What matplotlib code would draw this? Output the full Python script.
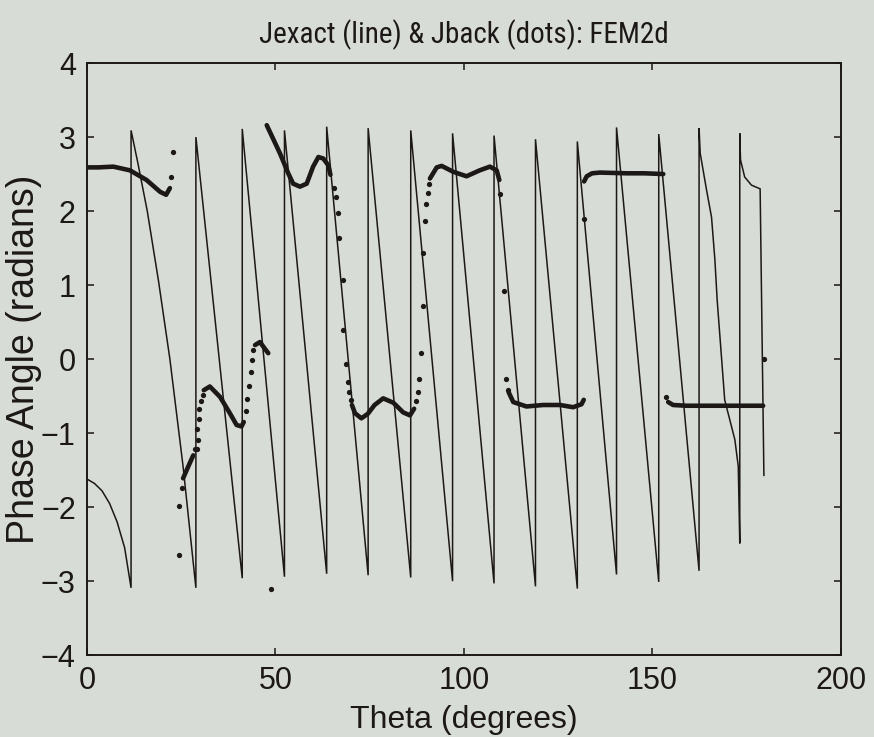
import numpy as np
import matplotlib
matplotlib.use("Agg")
import matplotlib.pyplot as plt
from matplotlib import font_manager

# --- Jexact: wrapped phase of the exact current (line vertices) ---
jexact_theta = [0.0, 2.0, 4.0, 6.0, 8.0, 10.0, 11.7,
                11.7, 13.5, 16.0, 19.0, 22.0, 25.5, 28.9,
                28.9, 41.2,
                41.2, 52.4,
                52.4, 63.6,
                63.6, 74.6,
                74.6, 85.9,
                85.9, 97.0,
                97.0, 108.0,
                108.0, 119.0,
                119.0, 130.1,
                130.1, 140.5,
                140.5, 151.7,
                151.7, 162.4,
                162.4, 162.7, 164.4, 165.7, 166.6, 167.2, 169.2, 171.9, 172.8, 173.2,
                173.2, 173.4, 174.5, 176.3, 178.6, 179.6]
jexact_phase = [-1.62, -1.68, -1.78, -1.95, -2.20, -2.55, -3.09,
                3.09, 2.65, 2.00, 1.05, 0.00, -1.45, -3.09,
                3.00, -2.96,
                3.11, -2.94,
                3.09, -2.90,
                3.14, -2.92,
                3.12, -2.95,
                3.09, -3.00,
                3.05, -3.03,
                3.02, -3.07,
                2.97, -3.10,
                2.94, -2.91,
                3.13, -3.01,
                3.04, -2.86,
                3.12, 2.78, 2.28, 1.92, 1.34, 0.80, -0.55, -1.09, -1.45, -2.49,
                3.05, 2.69, 2.46, 2.35, 2.30, -1.57]

# --- Jback: back-propagated phase, densely sampled stretches (NaN = gap) ---
jback_theta = [0.0, 3.0, 7.0, 11.4, 15.8, 19.4, 21.0, 22.0, np.nan,
               25.5, 26.8, 28.2, np.nan,
               31.0, 32.6, 35.3, 37.9, 39.7, 41.0, 41.6, np.nan,
               44.6, 45.9, 47.2, 48.1, np.nan,
               47.7, 51.2, 53.4, 54.7, 56.5, 58.3, 60.0, 61.4, 62.7, 64.0, 64.6, np.nan,
               70.3, 71.1, 72.8, 74.5, 76.3, 78.6, 81.3, 83.9, 85.7, 86.8, np.nan,
               91.0, 92.8, 94.1, 97.2, 100.7, 104.2, 106.9, 108.7, 109.4, np.nan,
               111.9, 113.1, 116.6, 121.0, 125.5, 129.0, 131.2, 131.8, np.nan,
               131.9, 132.6, 134.0, 136.1, 143.2, 148.0, 152.9, np.nan,
               154.2, 155.5, 159.0, 165.0, 172.0, 179.4]
jback_phase = [2.59, 2.59, 2.60, 2.55, 2.42, 2.26, 2.22, 2.31, np.nan,
               -1.61, -1.46, -1.30, np.nan,
               -0.42, -0.37, -0.51, -0.73, -0.89, -0.91, -0.85, np.nan,
               0.19, 0.23, 0.14, 0.08, np.nan,
               3.16, 2.78, 2.51, 2.37, 2.33, 2.37, 2.60, 2.73, 2.71, 2.62, 2.49, np.nan,
               -0.62, -0.73, -0.80, -0.74, -0.62, -0.53, -0.59, -0.72, -0.76, -0.67, np.nan,
               2.44, 2.59, 2.61, 2.53, 2.47, 2.55, 2.60, 2.55, 2.42, np.nan,
               -0.45, -0.58, -0.64, -0.62, -0.62, -0.65, -0.61, -0.55, np.nan,
               2.40, 2.47, 2.51, 2.52, 2.51, 2.51, 2.50, np.nan,
               -0.58, -0.62, -0.63, -0.63, -0.63, -0.63]

# --- Jback: individual samples across the fast transitions ---
dots_theta = [22.2, 22.9, 24.3, 24.5, 25.1,
              28.6, 29.1, 29.4, 29.3, 29.6, 29.8, 30.2, 30.7,
              42.1, 42.5, 43.1, 43.5, 43.9, 44.1,
              48.8,
              65.5, 66.0, 66.5, 66.9, 67.8, 68.0, 68.6, 69.2, 69.6, 70.0,
              87.3, 87.9, 88.1, 88.6, 89.1, 89.2, 89.7, 89.9, 90.5, 90.8,
              109.7, 110.6, 111.1, 111.7,
              131.8,
              153.7,
              179.6]
dots_phase = [2.46, 2.80, -2.65, -1.99, -1.74,
              -1.21, -1.22, -1.09, -0.95, -0.81, -0.68, -0.56, -0.49,
              -0.70, -0.54, -0.36, -0.17, -0.01, 0.12,
              -3.11,
              2.31, 2.19, 1.98, 1.64, 1.07, 0.39, -0.06, -0.31, -0.44, -0.55,
              -0.56, -0.44, -0.27, 0.08, 0.72, 1.43, 1.86, 2.10, 2.25, 2.36,
              2.23, 0.92, -0.27, -0.42,
              1.89,
              -0.51,
              0.00]

x_ticks = [0, 50, 100, 150, 200]
y_ticks = [-4, -3, -2, -1, 0, 1, 2, 3, 4]

bg = "#d8dcd6"
ink = "#1c1818"

installed = {f.name for f in font_manager.fontManager.ttflist}
narrow = [n for n in ("Liberation Sans Narrow", "Roboto Condensed",
                      "Open Sans Condensed") if n in installed]
if narrow:
    title_family, title_size = [narrow[0], "Liberation Sans"], 21
else:
    title_family, title_size = ["Liberation Sans", "DejaVu Sans"], 18.5
plt.rcParams["font.family"] = ["Liberation Sans", "DejaVu Sans"]

fig = plt.figure(figsize=(8.74, 7.37), dpi=100, facecolor=bg)
ax = fig.add_axes([0.0995, 0.111, 0.8625, 0.8035], facecolor=bg)

ax.plot(jexact_theta, jexact_phase, color=ink, lw=1.1, solid_joinstyle="miter")
ax.plot(jback_theta, jback_phase, color=ink, lw=3.3, solid_capstyle="round")
ax.plot(dots_theta, dots_phase, linestyle="none", marker="o", ms=3.8,
        color=ink, markeredgewidth=0)

ax.set_xlim(0, 200)
ax.set_ylim(-4, 4)
ax.set_xticks(x_ticks)
ax.set_yticks(y_ticks)
ax.tick_params(direction="in", length=5, width=1.1, top=True, right=True,
               labelsize=22, colors=ink, pad=8)
for s in ax.spines.values():
    s.set_linewidth(1.4)
    s.set_color(ink)

ax.set_xlabel("Theta (degrees)", fontsize=23, color=ink, labelpad=6)
ax.set_ylabel("Phase Angle (radians)", fontsize=27, color=ink, labelpad=-1)
ax.set_title("Jexact (line) & Jback (dots): FEM2d", fontsize=title_size,
             color=ink, family=title_family, pad=14)

fig.savefig("out.png", dpi=100, facecolor=bg)
